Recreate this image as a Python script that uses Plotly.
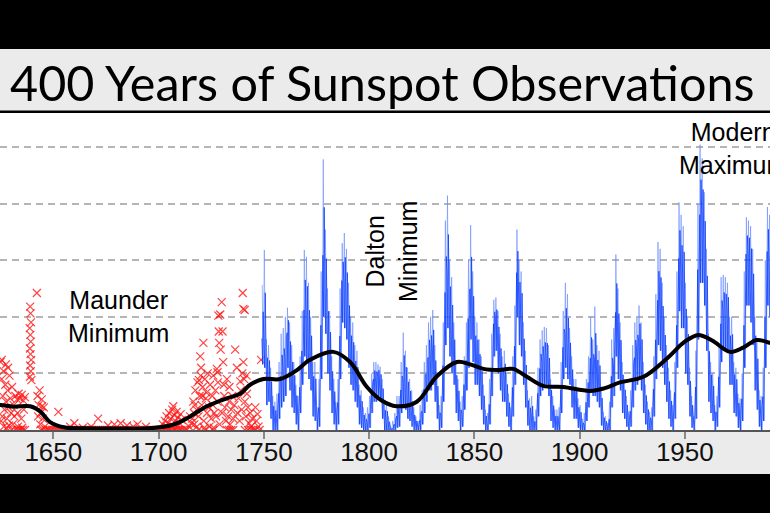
import plotly.graph_objects as go

# ---------------- data ----------------
# Yearly sunspot numbers 1749-1991: yearly mean, highest month, lowest month (estimated)
blue_years = list(range(1749, 1992))
blue_mean = [80.9, 83.4, 47.7, 47.8, 30.7, 12.2, 9.6, 10.2, 32.4, 47.6, 54.0, 62.9, 85.9, 61.2, 45.1, 36.4, 20.9, 11.4, 37.8, 69.8,
             106.1, 100.8, 81.6, 66.5, 34.8, 30.6, 7.0, 19.8, 92.5, 154.4, 125.9, 84.8, 68.1, 38.5, 22.8, 10.2, 24.1, 82.9, 132.0, 130.9,
             118.1, 89.9, 66.6, 60.0, 46.9, 41.0, 21.3, 16.0, 6.4, 4.1, 6.8, 14.5, 34.0, 45.0, 43.1, 47.5, 42.2, 28.1, 10.1, 8.1,
             2.5, 0.0, 1.4, 5.0, 12.2, 13.9, 35.4, 45.8, 41.1, 30.1, 23.9, 15.6, 6.6, 4.0, 1.8, 8.5, 16.6, 36.3, 49.6, 64.2,
             67.0, 70.9, 47.8, 27.5, 8.5, 13.2, 56.9, 121.5, 138.3, 103.2, 85.7, 64.6, 36.7, 24.2, 10.7, 15.0, 40.1, 61.5, 98.5, 124.7,
             96.3, 66.6, 64.5, 54.1, 39.0, 20.6, 6.7, 4.3, 22.7, 54.8, 93.8, 95.8, 77.2, 59.1, 44.0, 47.0, 30.5, 16.3, 7.3, 37.6,
             74.0, 139.0, 111.2, 101.6, 66.2, 44.7, 17.0, 11.3, 12.4, 3.4, 6.0, 32.3, 54.3, 59.7, 63.7, 63.5, 52.2, 25.4, 13.1, 6.8,
             6.3, 7.1, 35.6, 73.0, 85.1, 78.0, 64.0, 41.8, 26.2, 26.7, 12.1, 9.5, 2.7, 5.0, 24.4, 42.0, 63.5, 53.8, 62.0, 48.5,
             43.9, 18.6, 5.7, 3.6, 1.4, 9.6, 47.4, 57.1, 103.9, 80.6, 63.6, 37.6, 26.1, 14.2, 5.8, 16.7, 44.3, 63.9, 69.0, 77.8,
             64.9, 35.7, 21.2, 11.1, 5.7, 8.7, 36.1, 79.7, 114.4, 109.6, 88.8, 67.8, 47.5, 30.6, 16.3, 9.6, 33.2, 92.6, 151.6, 136.3,
             134.7, 83.9, 69.4, 31.5, 13.9, 4.4, 38.0, 141.7, 190.2, 184.8, 159.0, 112.3, 53.9, 37.6, 27.9, 10.2, 15.1, 47.0, 93.8, 105.9,
             105.5, 104.5, 66.6, 68.9, 38.0, 34.5, 15.5, 12.6, 27.5, 92.5, 155.4, 154.6, 140.4, 115.9, 66.6, 45.9, 17.9, 13.4, 29.4, 100.2,
             157.6, 142.6, 145.7]
blue_hi = [128, 159, 80, 75, 55, 30, 25, 32, 60, 85, 90, 100, 108, 95, 75, 60, 40, 30, 65, 105,
           159, 153, 130, 100, 60, 60, 20, 45, 140, 239, 177, 125, 105, 65, 45, 25, 45, 125, 165, 174,
           160, 130, 100, 95, 75, 70, 40, 35, 20, 15, 20, 30, 50, 60, 60, 58, 56, 45, 25, 25,
           12, 2, 8, 15, 30, 30, 60, 86, 70, 55, 45, 35, 20, 12, 8, 22, 35, 60, 75, 95,
           100, 106, 75, 50, 22, 30, 95, 185, 207, 150, 135, 95, 60, 45, 25, 30, 65, 95, 150, 181,
           140, 100, 95, 80, 65, 40, 18, 15, 45, 85, 115, 117, 105, 85, 65, 70, 50, 32, 20, 65,
           110, 177, 150, 140, 95, 70, 35, 28, 30, 12, 18, 55, 80, 88, 91, 90, 75, 45, 30, 18,
           18, 20, 60, 105, 130, 120, 90, 65, 45, 45, 28, 22, 10, 15, 45, 65, 100, 80, 109, 75,
           70, 38, 16, 12, 6, 25, 80, 90, 155, 125, 95, 60, 45, 30, 16, 35, 75, 95, 99, 110,
           95, 60, 40, 25, 16, 20, 65, 120, 166, 160, 130, 100, 75, 55, 35, 22, 60, 140, 201, 190,
           180, 130, 100, 55, 30, 12, 70, 200, 252, 240, 210, 160, 85, 60, 50, 22, 30, 75, 135, 137,
           135, 130, 100, 100, 60, 55, 32, 28, 50, 140, 188, 185, 180, 160, 100, 80, 35, 30, 55, 150,
           197, 190, 200]
blue_lo = [58, 55, 22, 25, 10, 0, 0, 0, 10, 20, 25, 30, 55, 35, 20, 15, 5, 0, 15, 40,
           65, 60, 45, 35, 12, 8, 0, 3, 45, 100, 85, 50, 35, 15, 5, 0, 5, 45, 95, 90,
           80, 55, 40, 35, 25, 20, 5, 2, 0, 0, 0, 2, 15, 25, 25, 30, 25, 10, 0, 0,
           0, 0, 0, 0, 2, 3, 15, 20, 18, 10, 8, 3, 0, 0, 0, 0, 5, 15, 25, 35,
           35, 40, 25, 10, 0, 2, 25, 75, 90, 65, 50, 40, 15, 8, 0, 3, 18, 35, 55, 80,
           60, 40, 40, 30, 18, 5, 0, 0, 5, 30, 65, 70, 50, 35, 25, 25, 12, 3, 0, 12,
           40, 100, 75, 65, 40, 20, 4, 0, 0, 0, 0, 12, 30, 35, 40, 40, 30, 8, 2, 0,
           0, 0, 15, 45, 55, 45, 40, 20, 10, 10, 2, 0, 0, 0, 8, 20, 35, 30, 30, 25,
           20, 4, 0, 0, 0, 0, 20, 30, 65, 45, 35, 15, 10, 3, 0, 3, 20, 35, 40, 45,
           35, 15, 5, 0, 0, 0, 12, 45, 75, 70, 55, 40, 25, 10, 3, 0, 10, 55, 105, 90,
           90, 50, 40, 12, 2, 0, 10, 80, 130, 130, 110, 70, 25, 15, 8, 0, 3, 20, 60, 70,
           70, 70, 40, 40, 15, 12, 2, 0, 8, 55, 110, 110, 95, 75, 35, 18, 3, 0, 8, 55,
           110, 100, 100]

# Early telescopic observations (group sunspot numbers), 1625-1749
red_year = [1625.0, 1625.5, 1626.0, 1626.3, 1626.8, 1627.2, 1627.5, 1628.0, 1628.3, 1628.8, 1629.2, 1629.6, 1630.0, 1630.4,
            1630.8, 1631.2, 1625.2, 1626.5, 1627.8, 1629.0, 1630.2, 1625.8, 1628.5, 1631.5, 1625.5, 1627.5,
            1632.0, 1632.8, 1633.5, 1634.2, 1635.0, 1635.8, 1636.5, 1633.0, 1634.8, 1636.0, 1632.5, 1633.5, 1634.5,
            1635.5, 1636.5, 1633.2, 1635.2,
            1639.0, 1639.2, 1639.4, 1638.8, 1639.1, 1639.3, 1638.9, 1639.2, 1639.5, 1639.0, 1639.3, 1638.9, 1639.6, 1642.2,
            1642.5, 1643.0, 1643.5, 1644.0, 1644.5, 1645.0, 1645.5, 1643.8, 1646.0, 1642.8, 1644.2, 1645.2, 1644.6,
            1652.4, 1660.0, 1671.3, 1676.0, 1679.0, 1682.0, 1685.0, 1688.0, 1690.0, 1694.0, 1658.0, 1664.0, 1668.0,
            1646.5, 1647.5, 1648.5, 1649.5, 1650.5, 1651.5, 1652.5, 1653.5, 1654.5, 1655.5, 1656.5, 1657.5, 1658.5,
            1659.5, 1660.5, 1661.5, 1662.5, 1663.5, 1664.5, 1665.5, 1666.5, 1667.5, 1668.5, 1669.5, 1670.5, 1671.5,
            1672.5, 1673.5, 1674.5, 1675.5, 1676.5, 1677.5, 1678.5, 1679.5, 1680.5, 1681.5, 1682.5, 1683.5, 1684.5,
            1685.5, 1686.5, 1687.5, 1688.5, 1689.5, 1690.5, 1691.5, 1692.5, 1693.5, 1694.5, 1695.5, 1696.5, 1697.5,
            1698.5, 1699.5, 1700.5, 1701.5, 1702.5, 1703.5, 1704.5, 1705.5, 1706.5, 1707.5, 1708.5, 1709.5, 1710.5,
            1711.5, 1712.5, 1713.5, 1719.0, 1722.0, 1726.0, 1732.5, 1733.5, 1734.5, 1735.5, 1741.0, 1742.5, 1744.0,
            1702.0, 1703.0, 1703.8, 1704.5, 1705.0, 1705.8, 1706.5, 1707.0, 1707.5, 1708.0, 1708.6, 1709.2, 1710.0,
            1710.5, 1711.0, 1704.0, 1706.0, 1709.0,
            1716.0, 1716.5, 1717.0, 1717.5, 1718.0, 1718.5, 1719.0, 1719.5, 1719.8, 1720.0, 1720.5, 1721.0, 1721.3,
            1721.5, 1722.0, 1722.5, 1723.0, 1714.5, 1715.0, 1715.5, 1720.2, 1718.2, 1721.8, 1717.2, 1719.2, 1722.8,
            1723.3, 1716.8, 1720.8,
            1724.0, 1724.5, 1725.0, 1725.5, 1726.0, 1726.5, 1727.0, 1727.7, 1728.0, 1728.4, 1728.6, 1728.8, 1729.3,
            1729.5, 1730.0, 1730.4, 1730.7, 1731.0, 1731.5, 1732.0, 1732.5, 1729.0, 1726.2, 1730.2, 1727.3, 1731.2,
            1733.7, 1724.2, 1725.8, 1728.2, 1728.0,
            1733.0, 1733.5, 1734.0, 1734.5, 1735.0, 1735.5, 1736.0, 1736.4, 1737.2, 1737.5, 1738.0, 1738.5, 1739.0,
            1739.5, 1740.0, 1740.3, 1740.3, 1740.7, 1741.0, 1741.5, 1742.0, 1742.5, 1743.0, 1743.5, 1744.0, 1744.5,
            1745.0, 1739.8, 1738.8, 1741.8, 1740.9,
            1746.0, 1746.5, 1747.0, 1747.5, 1746.2, 1748.0, 1748.7]
red_value = [60, 45, 30, 52, 18, 40, 25, 10, 35, 20, 48, 28, 15, 38,
             5, 22, 8, 3, 2, 4, 0, 12, 55, 12, 62, 58,
             30, 27, 32, 28, 31, 26, 29, 15, 10, 18, 0, 0, 0,
             0, 0, 3, 2,
             109, 103, 95, 90, 84, 78, 72, 67, 62, 57, 52, 47, 44, 121,
             30, 22, 35, 15, 27, 10, 20, 5, 3, 12, 0, 0, 21,
             16, 6, 10, 4, 5, 6, 4, 3, 5, 3, 3, 2, 3,
             0, 0, 0, 0, 0, 0, 0, 0, 0, 0, 0, 0, 0,
             0, 0, 0, 0, 0, 0, 0, 0, 0, 0, 0, 0, 0,
             0, 0, 0, 0, 0, 0, 0, 0, 0, 0, 0, 0, 0,
             0, 0, 0, 0, 0, 0, 0, 0, 0, 0, 0, 0, 0,
             0, 0, 0, 0, 0, 0, 0, 0, 0, 0, 0, 0, 0,
             0, 0, 0, 0, 0, 0, 0, 0, 0, 0, 0, 0, 0,
             5, 8, 12, 6, 15, 10, 18, 21, 13, 8, 16, 11, 6,
             14, 9, 3, 4, 3,
             10, 25, 5, 35, 18, 42, 12, 30, 65, 48, 22, 38, 77,
             8, 45, 28, 15, 3, 12, 6, 55, 3, 2, 22, 44, 33,
             50, 15, 30,
             20, 40, 10, 30, 48, 15, 35, 54, 25, 101, 87, 77, 102,
             71, 113, 87, 60, 40, 20, 8, 45, 5, 2, 15, 12, 30,
             38, 3, 22, 42, 51,
             12, 25, 5, 18, 30, 10, 22, 71, 55, 15, 28, 8, 35,
             18, 121, 107, 60, 45, 25, 12, 32, 20, 6, 15, 3, 10,
             0, 50, 43, 48, 106,
             20, 8, 14, 3, 0, 0, 62]

# Smoothed long-term average
smooth_year = [1610, 1620, 1625, 1631, 1639, 1644, 1648.5, 1655, 1665, 1680, 1695, 1705.5, 1710, 1715, 1723,
               1732.4, 1738.8, 1743.5, 1749.8, 1757.8, 1765, 1772, 1783, 1791, 1799, 1806, 1813, 1822.7, 1832,
               1841.7, 1848, 1854.3, 1862, 1868.5, 1875, 1882.8, 1892.3, 1905, 1912, 1919.2, 1930.3, 1941.4, 1950,
               1956.4, 1963, 1971.5, 1978, 1984.1, 1990.4, 1995]
smooth_value = [18, 22, 22, 20.6, 21, 16, 7, 2.4, 1.5, 1.3, 1.5, 4, 7, 12, 21,
                28, 32, 40, 45, 45, 52, 62, 69, 60, 38, 26, 21, 25, 47,
                60, 58, 54, 53, 54, 47, 39, 38, 34.5, 37, 42, 47, 63, 78,
                84, 79, 69, 73, 79.5, 77, 74]

tick_years = [1650, 1700, 1750, 1800, 1850, 1900, 1950, 2000]
tick_labels = ["1650", "1700", "1750", "1800", "1850", "1900", "1950", "2000"]
grid_levels = [50, 100, 150, 200, 250]

# zig-zag sequences through each year's lowest / highest / mean month
zx_light, zy_light, zx_dark, zy_dark = [], [], [], []
for yr, hi, lo, mn in zip(blue_years, blue_hi, blue_lo, blue_mean):
    zx_light += [yr + 0.25, yr + 0.75]
    zy_light += [hi, lo]
    zx_dark += [yr + 0.1, yr + 0.4, yr + 0.7]
    zy_dark += [mn, lo, (hi + mn) / 2]

fig = go.Figure()
fig.add_trace(go.Scatter(x=red_year, y=red_value, mode="markers",
                         marker=dict(symbol="x-thin", size=8,
                                     line=dict(width=1.2, color="rgba(255,20,20,0.8)")),
                         hoverinfo="skip"))
fig.add_trace(go.Scatter(x=zx_light, y=zy_light, mode="lines",
                         line=dict(color="rgba(110,145,255,0.65)", width=1), hoverinfo="skip"))
fig.add_trace(go.Scatter(x=zx_dark, y=zy_dark, mode="lines",
                         line=dict(color="rgba(10,60,255,0.85)", width=0.9), hoverinfo="skip"))
fig.add_trace(go.Scatter(x=smooth_year, y=smooth_value, mode="lines",
                         line=dict(color="black", width=4, shape="spline", smoothing=1.0),
                         hoverinfo="skip"))

H = 317.0
def py(pix):
    return (430.0 - pix) / H

fig.update_layout(
    width=770, height=513,
    margin=dict(l=0, r=0, t=113, b=83),
    paper_bgcolor="black", plot_bgcolor="white",
    showlegend=False,
    xaxis=dict(range=[1624.68, 1990.47], tickvals=tick_years, ticktext=tick_labels,
               ticks="outside", ticklen=7, tickwidth=1.5, tickcolor="#888888",
               showline=True, linecolor="#555555", linewidth=2,
               showgrid=False, zeroline=False, ticklabelstandoff=-9,
               tickfont=dict(family="Liberation Sans, Arial, sans-serif", size=26, color="#111111")),
    yaxis=dict(range=[0, 280], tickvals=grid_levels, showticklabels=False, ticks="",
               showgrid=True, gridcolor="#b5b5b5", gridwidth=2, griddash="7px,5px",
               zeroline=False, showline=False),
    shapes=[
        dict(type="rect", xref="paper", yref="paper", x0=0, x1=1, y0=py(110.5), y1=py(49),
             fillcolor="#ebebeb", line=dict(width=0), layer="below"),
        dict(type="rect", xref="paper", yref="paper", x0=0, x1=1, y0=py(474), y1=0,
             fillcolor="#ebebeb", line=dict(width=0), layer="below"),
    ],
    annotations=[
        dict(text="400 Years of Sunspot Observations", xref="paper", yref="paper",
             x=382 / 770, y=py(82), xanchor="center", yanchor="middle", showarrow=False,
             font=dict(family="Lato, Open Sans, sans-serif", size=48.5, color="black")),
        dict(text="Maunder<br>Minimum", xref="paper", yref="paper", x=118 / 770, y=py(316),
             xanchor="center", yanchor="middle", showarrow=False,
             font=dict(family="Liberation Sans, Arial, sans-serif", size=25, color="black")),
        dict(text="Dalton<br>Minimum", xref="paper", yref="paper", x=391 / 770, y=py(252),
             xanchor="center", yanchor="middle", showarrow=False, textangle=-90,
             font=dict(family="Liberation Sans, Arial, sans-serif", size=25, color="black")),
        dict(text="Modern<br>Maximum", xref="paper", yref="paper", x=733 / 770, y=py(148),
             xanchor="center", yanchor="middle", showarrow=False,
             font=dict(family="Liberation Sans, Arial, sans-serif", size=25, color="black")),
    ],
)

fig.write_html("out.html")
